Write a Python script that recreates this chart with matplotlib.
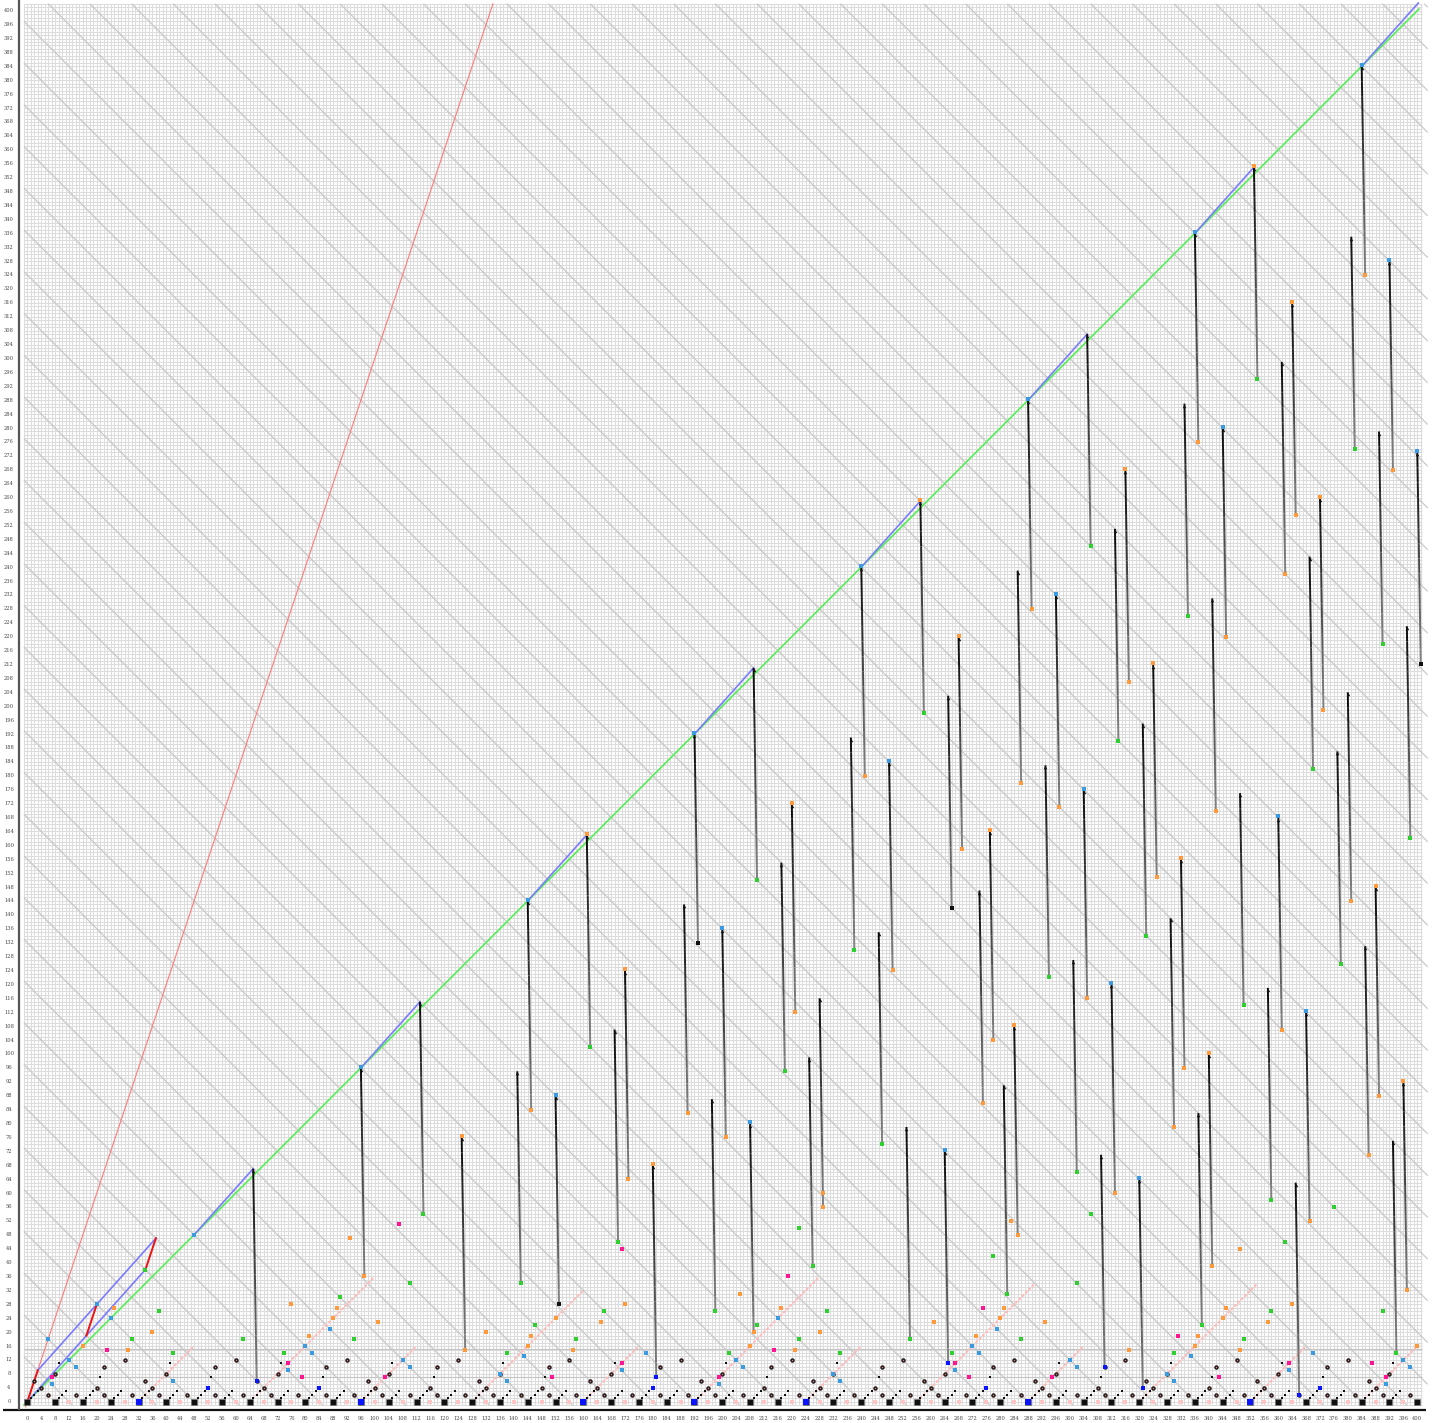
import numpy as np
import matplotlib
matplotlib.use("Agg")
import matplotlib.pyplot as plt
from matplotlib.collections import LineCollection

# ------------------------------------------------------------------ data
x_ticks = list(range(0, 401, 4))
y_ticks = list(range(0, 401, 4))

# blue segment starts along the diagonal (each rises 19 over 17)
seg_start = [48, 96, 144, 192, 240, 288, 336, 384]
# early double line with red rungs
early_lower = [(0, 0), (34, 38)]
early_upper = [(3, 9), (37, 47)]
rungs = [((0, 0), (3, 9)), ((17, 19), (20, 28)), ((34, 38), (37, 47))]

# vertical drops: x, top y, bottom y, top colour, bottom colour
vx = [65, 96, 113, 125, 141, 144, 152, 161, 169, 172, 180, 189, 192, 197, 200, 208,
      209, 217, 220, 225, 228, 237, 240, 245, 248, 253, 257, 264, 265, 268, 274, 277,
      281, 284, 285, 288, 293, 296, 301, 304, 305, 309, 312, 313, 316, 320, 321, 324,
      329, 332, 333, 336, 337, 340, 341, 344, 349, 353, 357, 360, 361, 364, 365, 368,
      369, 372, 377, 380, 381, 384, 385, 388, 389, 392, 393, 396, 397, 400]
vtop = [67, 96, 115, 76, 95, 144, 88, 163, 107, 124, 68, 143, 192, 87, 136, 80,
        211, 155, 172, 99, 116, 191, 240, 135, 184, 79, 259, 72, 203, 220, 147, 164,
        91, 108, 239, 288, 183, 232, 127, 176, 307, 71, 120, 251, 268, 64, 195, 212,
        139, 156, 287, 336, 83, 100, 231, 280, 175, 355, 119, 168, 299, 316, 63, 112,
        243, 260, 187, 204, 335, 384, 131, 148, 279, 328, 75, 92, 223, 273]
vbot = [6, 36, 54, 15, 34, 84, 28, 102, 46, 64, 7, 83, 132, 26, 76, 20,
        150, 95, 112, 39, 56, 130, 180, 74, 124, 18, 198, 11, 142, 159, 86, 104,
        31, 48, 178, 228, 122, 171, 66, 116, 246, 10, 60, 190, 207, 4, 134, 151,
        79, 96, 226, 276, 22, 39, 170, 220, 114, 294, 58, 107, 238, 255, 2, 52,
        182, 199, 126, 144, 274, 324, 71, 88, 218, 268, 14, 32, 162, 212]
vtop_col = ["k", "c", "k", "o", "k", "c", "c", "o", "k", "o",
            "o", "k", "c", "k", "c", "c", "k", "k", "o", "k",
            "k", "k", "c", "k", "c", "k", "o", "c", "k", "o",
            "k", "o", "k", "o", "k", "c", "k", "c", "k", "c",
            "k", "k", "c", "k", "o", "c", "k", "o", "k", "o",
            "k", "c", "k", "o", "k", "c", "k", "o", "k", "c",
            "k", "o", "k", "c", "k", "o", "k", "k", "k", "c",
            "k", "o", "k", "c", "k", "o", "k", "c"]
vbot_col = ["b", "o", "g", "o", "g", "o", "k", "g", "g", "o",
            "b", "o", "k", "g", "o", "o", "g", "g", "o", "g",
            "o", "g", "o", "g", "o", "g", "g", "b", "k", "o",
            "o", "o", "g", "o", "o", "o", "g", "o", "g", "o",
            "g", "b", "o", "g", "o", "b", "g", "o", "o", "o",
            "g", "o", "g", "o", "o", "o", "g", "g", "g", "o",
            "o", "o", "b", "o", "g", "o", "g", "o", "g", "o",
            "o", "o", "g", "o", "g", "o", "g", "k"]

# bottom band: black squares, pink dots and small dots (read row by row)
sq_x = [0, 8, 16, 24, 32, 40, 48, 56, 64, 72, 80, 88, 96, 104, 112, 120, 128, 136, 144,
        152, 160, 168, 176, 184, 192, 200, 208, 216, 224, 232, 240, 248, 256, 264, 272,
        280, 288, 296, 304, 312, 320, 328, 336, 344, 352, 360, 368, 376, 384, 392, 400]
pink0_x = [12, 20, 28, 36, 44, 52, 60, 68, 76, 84, 92, 100, 108, 116, 124, 132, 140,
           148, 156, 164, 172, 180, 188, 196, 204, 212, 220, 228, 236, 244, 252, 260,
           268, 276, 284, 292, 300, 308, 316, 324, 332, 340, 348, 356, 364, 372, 380,
           388, 396]
row1_x = [1, 9, 17, 25, 33, 41, 49, 57, 65, 73, 81, 89, 97, 105, 113, 121, 129, 137,
          145, 153, 161, 169, 177, 185, 193, 201, 209, 217, 225, 233, 241, 249, 257,
          265, 273, 281, 289, 297, 305, 313, 321, 329, 337, 345, 353, 361, 369, 377,
          385, 393]
row2_x = [2, 10, 18, 26, 34, 42, 50, 58, 66, 74, 82, 90, 98, 106, 114, 122, 130, 138,
          146, 154, 162, 170, 178, 186, 194, 202, 210, 218, 226, 234, 242, 250, 258,
          266, 274, 282, 290, 298, 306, 314, 322, 330, 338, 346, 354, 362, 370, 378,
          386, 394]
row3_x = [3, 11, 19, 27, 35, 43, 51, 59, 67, 75, 83, 91, 99, 107, 115, 123, 131, 139,
          147, 155, 163, 171, 179, 187, 195, 203, 211, 219, 227, 235, 243, 251, 259,
          267, 275, 283, 291, 299, 307, 315, 323, 331, 339, 347, 355, 363, 371, 379,
          387, 395]
ring2_x = [6, 14, 22, 30, 38, 46, 54, 62, 70, 78, 86, 94, 102, 110, 118, 126, 134, 142,
           150, 158, 166, 174, 182, 190, 198, 206, 214, 222, 230, 238, 246, 254, 262,
           270, 278, 286, 294, 302, 310, 318, 326, 334, 342, 350, 358, 366, 374, 382,
           390, 398]
ring4_x = [4, 20, 36, 68, 100, 116, 132, 148, 164, 196, 212, 228, 244, 260, 292, 308,
           324, 340, 356, 388]
ring6_x = [2, 34, 66, 98, 130, 162, 194, 226, 258, 290, 322, 354, 386]
ring8_x = [8, 40, 72, 104, 136, 168, 200, 232, 264, 296, 328, 360, 392]
ring10_x = [22, 54, 86, 118, 150, 182, 214, 246, 278, 310, 342, 374]
ring12_x = [28, 60, 92, 124, 156, 188, 220, 252, 284, 316, 348, 380]
dot11_x = [9, 41, 73, 105, 137, 169, 201, 233, 265, 297, 329, 361, 393]
dot7_x = [21, 53, 85, 117, 149, 181, 213, 245, 277, 309, 341, 373]

blue_sq_x = [32, 96, 160, 192, 224, 288, 352]
blue_ring_x = [52, 84, 180, 276, 372]

orange_x = [16, 25, 29, 36, 76, 81, 88, 89, 101, 132, 144, 145, 152, 165, 172, 157, 205,
            217, 208, 228, 221, 261, 273, 280, 281, 293, 317, 337, 336, 344, 345, 349,
            357, 364, 400, 229, 283, 349, 93]
orange_y = [16, 27, 15, 20, 28, 19, 24, 27, 23, 20, 16, 19, 24, 23, 28, 15, 31,
            27, 16, 20, 15, 23, 19, 24, 27, 23, 15, 19, 16, 24, 27, 15,
            23, 28, 16, 60, 52, 44, 47]
cyan_x = [6, 20, 24, 12, 14, 7, 42, 75, 80, 82, 87, 108, 110, 136, 138, 143, 171, 178,
          199, 216, 204, 206, 234, 232, 267, 272, 274, 279, 300, 302, 328, 330, 335,
          363, 370, 396, 398, 391, 48]
cyan_y = [18, 28, 24, 12, 10, 5, 6, 9, 16, 14, 21, 12, 10, 8, 6, 13, 9, 14,
          5, 24, 12, 10, 6, 8, 9, 16, 14, 21, 12, 10, 8, 6, 13,
          9, 14, 12, 10, 5, 48]
green_x = [30, 38, 42, 62, 74, 90, 94, 110, 138, 146, 158, 166, 202, 210, 222, 230, 234,
           222, 266, 286, 278, 302, 306, 330, 350, 358, 362, 376, 390, 34]
green_y = [18, 26, 14, 18, 14, 30, 18, 34, 14, 22, 18, 26, 14, 22, 18, 26, 14,
           50, 14, 18, 42, 34, 54, 14, 18, 26, 46, 56, 26, 38]
magenta_x = [23, 7, 75, 79, 103, 107, 151, 171, 199, 215, 267, 271, 275, 295, 331, 343,
             363, 391, 387, 171, 219]
magenta_y = [15, 7, 11, 7, 7, 51, 7, 11, 7, 15, 11, 7, 27, 7, 19, 7,
             11, 7, 11, 44, 36]

# pale pink dotted diagonals
pink_runs = [((32, 0), (48, 16)), ((64, 0), (100, 36)), ((96, 0), (112, 16)),
             ((128, 0), (160, 32)), ((160, 0), (176, 16)), ((192, 0), (228, 36)),
             ((224, 0), (240, 16)), ((256, 0), (290, 34)), ((288, 0), (304, 16)),
             ((320, 0), (354, 34)), ((352, 0), (368, 16)), ((384, 0), (400, 16))]

# ------------------------------------------------------------------ figure
W, H = 1439, 1423
fig = plt.figure(figsize=(W / 100, H / 100), dpi=100)
ax = fig.add_axes([0, 0, 1, 1])
ax.set_xlim(-7.86, 406.25)
ax.set_ylim(-6.13, 403.08)
ax.axis("off")

COL = {"o": "#ff9a3c", "c": "#3b9be0", "k": "#111111", "g": "#2fcf2f", "b": "#0a14ff"}

# fine grid
gx = np.arange(-1, 402)
ax.vlines(gx, -1, 402, colors="#dcdcdc", lw=0.75, zorder=1)
gy = np.arange(-1, 403)
ax.hlines(gy, -1, 401.5, colors="#dcdcdc", lw=0.75, zorder=1)
ax.hlines([7.2, 15.2], -1, 401.5, colors="#c4c4c4", lw=0.8, zorder=1)

# diagonal guide lines x + y = 12k
segs = []
for c in range(12, 12 * 68, 12):
    x0 = max(-1, c - 402)
    x1 = min(403, c + 1)
    if x0 < x1:
        segs.append([(x0, c - x0), (x1, c - x1)])
ax.add_collection(LineCollection(segs, colors="#c8c8c8", lw=0.85, zorder=2))

# axes lines
ax.plot([-7, 402.6], [-2.5, -2.5], color="#111111", lw=1.6, zorder=6,
        solid_capstyle="butt")
ax.plot([-2.5, -2.5], [-2.5, 403], color="#555555", lw=1.6, zorder=6,
        solid_capstyle="butt")

# tick labels
for t in x_ticks:
    ax.text(t, -4.75, str(t), fontsize=3.7, family="DejaVu Serif", color="#444444",
            ha="center", va="center", zorder=7)
for t in y_ticks:
    ax.text(-5.3, t, str(t), fontsize=3.7, family="DejaVu Serif", color="#444444",
            ha="center", va="center", zorder=7)

# y = 3x line and y = x line
ax.plot([-0.5, 134.0], [-1.5, 402], color="#ff7a7a", lw=0.8, zorder=3)
ax.plot([-1, 400.5], [-1, 400.5], color="#55ee55", lw=1.2, zorder=3)

# blue segments
for s in seg_start:
    x1 = min(s + 17, 400.3)
    y1 = s + (x1 - s) * 19 / 17
    ax.plot([s, x1], [s, y1], color="#7b7bff", lw=1.2, zorder=3.5)
ax.plot(*zip(*early_lower), color="#7b7bff", lw=1.2, zorder=3.5)
ax.plot(*zip(*early_upper), color="#7b7bff", lw=1.2, zorder=3.5)
for a, b in rungs:
    ax.plot([a[0], b[0]], [a[1], b[1]], color="#ee1111", lw=1.4, zorder=3.6)

# pale pink dotted runs
for a, b in pink_runs:
    ax.plot([a[0], b[0]], [a[1], b[1]], color="#ffbcbc", lw=1.6,
            linestyle=(0, (0.6, 1.5)), dash_capstyle="round", zorder=3.2)

# vertical drops with dark-to-grey shading
vsegs, vcols = [], []
for x, t, b in zip(vx, vtop, vbot):
    n = 14
    xs = np.linspace(x, x + 1, n + 1)
    ys = np.linspace(t, b, n + 1)
    for i in range(n):
        vsegs.append([(xs[i], ys[i]), (xs[i + 1], ys[i + 1])])
        g = 0.05 + 0.45 * i / (n - 1)
        vcols.append((g, g, g))
ax.add_collection(LineCollection(vsegs, colors=vcols, lw=1.4, zorder=4,
                                 capstyle="butt"))

# bottom band
ax.scatter(pink0_x, [0] * len(pink0_x), s=10, marker="s", color="#ffc4c4", lw=0, zorder=4.5)
ax.scatter(sq_x, [0] * len(sq_x), s=14, marker="s", color="#111111",
           edgecolors="#777777", linewidths=0.4, zorder=5)
for xs_, yv in [(row1_x, 1), (row2_x, 2), (row3_x, 3), (dot11_x, 11), (dot7_x, 7)]:
    ax.scatter(xs_, [yv] * len(xs_), s=3.5, marker="s", color="#111111", lw=0, zorder=5)
for xs_, yv in [(ring2_x, 2), (ring4_x, 4), (ring6_x, 6), (ring8_x, 8), (ring10_x, 10),
                (ring12_x, 12)]:
    ax.scatter(xs_, [yv] * len(xs_), s=8, marker="o", color="#2a1a1a",
               edgecolors="#111111", linewidths=0.3, zorder=5)
    ax.scatter(xs_, [yv] * len(xs_), s=1.0, marker="o", color="#d08080", lw=0, zorder=5.1)
ax.scatter(blue_sq_x, [0] * len(blue_sq_x), s=14, marker="s", color=COL["b"], lw=0, zorder=5.2)
ax.scatter(blue_ring_x, [4] * len(blue_ring_x), s=10, marker="s", color=COL["b"], lw=0,
           zorder=5.2)

# coloured points
ax.scatter(orange_x, orange_y, s=8, marker="s", color=COL["o"], lw=0, zorder=5.3)
ax.scatter(cyan_x, cyan_y, s=8, marker="s", color=COL["c"], lw=0, zorder=5.3)
ax.scatter(green_x, green_y, s=9, marker="s", color=COL["g"], lw=0, zorder=5.3)
ax.scatter(magenta_x, magenta_y, s=6, marker="s", color="#ff1493", lw=0, zorder=5.3)

# markers at vertical ends
for x, t, b, ct, cb in zip(vx, vtop, vbot, vtop_col, vbot_col):
    ax.scatter([x], [t - 0.6], s=6, marker="^", color="#111111", lw=0, zorder=5.5)
    if ct != "k":
        ax.scatter([x], [t + 0.3], s=8, marker="s", color=COL[ct], lw=0, zorder=5.6)
    ax.scatter([x + 1], [b], s=8, marker="s", color=COL[cb], lw=0, zorder=5.6)

fig.savefig("out.png", dpi=100)
